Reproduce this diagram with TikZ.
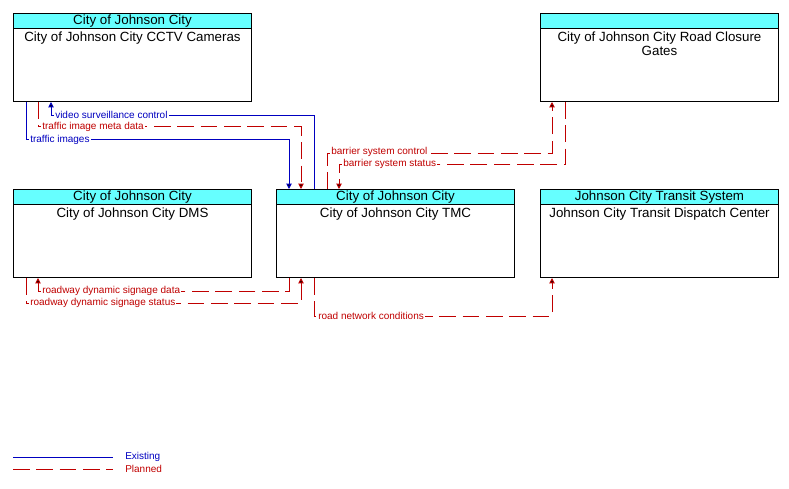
\documentclass[tikz,border=0pt]{standalone}
\usepackage{fontspec}
\setmainfont{Liberation Sans}
\usetikzlibrary{arrows.meta,calc}
\definecolor{headcyan}{RGB}{102,255,255}
\definecolor{exblue}{RGB}{0,0,192}
\definecolor{plred}{RGB}{192,0,0}
\begin{document}
\begin{tikzpicture}[x=0.75pt,y=-0.75pt,
    element/.style={draw,line width=0.75pt,minimum width=178.5pt,minimum height=66pt,inner sep=0pt,anchor=north west},
    header/.style={draw,line width=0.75pt,fill=headcyan,minimum width=178.5pt,minimum height=11.25pt,inner sep=0pt,anchor=north,font=\fontsize{10}{11}\selectfont},
    title/.style={anchor=north,align=center,inner sep=0pt,font=\fontsize{10}{10.5}\selectfont},
    existing/.style={draw=exblue,line width=0.75pt},
    planned/.style={draw=plred,line width=0.75pt,dash pattern=on 12.5pt off 5pt},
    tip/.style={-{Triangle[width=4pt,length=4pt,fill=.]}},
    flowlabel/.style={fill=white,inner sep=0.75pt,anchor=west,font=\fontsize{7.5}{8}\selectfont}]

  \useasboundingbox (0,0) rectangle (789,489);

  \foreach \n/\x/\y/\h/\t in {
      cctv/13/13/{City of Johnson City}/{City of Johnson City CCTV Cameras},
      gates/540/13/{}/{City of Johnson City Road Closure\\Gates},
      dms/13/189/{City of Johnson City}/{City of Johnson City DMS},
      tmc/276/189/{City of Johnson City}/{City of Johnson City TMC},
      transit/540/189/{Johnson City Transit System}/{Johnson City Transit Dispatch Center}}
  {
    \node[element] (\n) at (\x,\y) {};
    \node[header] (\n-h) at (\n.north) {\h};
    \node[title] (\n-t) at ($(\n-h.south)+(0,3)$) {\t};
  }

  % flows
  \draw[existing,tip] ($(tmc.north west)+(38,0)$) |- ($(cctv.south west)+(38,13)$) -- ($(cctv.south west)+(38,0)$);
  \draw[planned,tip] ($(cctv.south west)+(25,0)$) |- ($(tmc.north west)+(25,-63)$) -- ($(tmc.north west)+(25,0)$);
  \draw[existing,tip] ($(cctv.south west)+(13,0)$) |- ($(tmc.north west)+(13,-50)$) -- ($(tmc.north west)+(13,0)$);
  \draw[planned,tip] ($(tmc.north west)+(51,0)$) |- ($(gates.south west)+(12,51)$) -- ($(gates.south west)+(12,0)$);
  \draw[planned,tip] ($(gates.south west)+(25,0)$) |- ($(tmc.north west)+(63,-25)$) -- ($(tmc.north west)+(63,0)$);
  \draw[planned,tip] ($(tmc.south west)+(13,0)$) |- ($(dms.south west)+(25,13)$) -- ($(dms.south west)+(25,0)$);
  \draw[planned,tip] ($(dms.south west)+(13,0)$) |- ($(tmc.south west)+(25,25)$) -- ($(tmc.south west)+(25,0)$);
  \draw[planned,tip] ($(tmc.south west)+(38,0)$) |- ($(transit.south west)+(12,38)$) -- ($(transit.south west)+(12,0)$);

  % flow labels
  \node[flowlabel,text=exblue] (vsc) at ($(cctv.south west)+(41,13)$) {video surveillance control};
  \node[flowlabel,text=plred] (timd) at ($(cctv.south west)+(28,25)$) {traffic image meta data};
  \node[flowlabel,text=exblue] (ti) at ($(cctv.south west)+(16,38)$) {traffic images};
  \node[flowlabel,text=plred] (bsc) at ($(tmc.north west)+(54,-37)$) {barrier system control};
  \node[flowlabel,text=plred] (bss) at ($(tmc.north west)+(66,-25)$) {barrier system status};
  \node[flowlabel,text=plred] (rdsd) at ($(dms.south west)+(28,13)$) {roadway dynamic signage data};
  \node[flowlabel,text=plred] (rdss) at ($(dms.south west)+(16,25)$) {roadway dynamic signage status};
  \node[flowlabel,text=plred] (rnc) at ($(tmc.south west)+(41,38)$) {road network conditions};

  % legend
  \coordinate (ex1) at (13,457);
  \coordinate (ex2) at (113,457);
  \coordinate (pl1) at (13,469);
  \coordinate (pl2) at (113,469);
  \draw[existing] (ex1) -- (ex2);
  \draw[planned] (pl1) -- (pl2);
  \node[flowlabel,fill=none,text=exblue] (exl) at (124,457) {Existing};
  \node[flowlabel,fill=none,text=plred] (pll) at (124,469) {Planned};
\end{tikzpicture}
\end{document}
